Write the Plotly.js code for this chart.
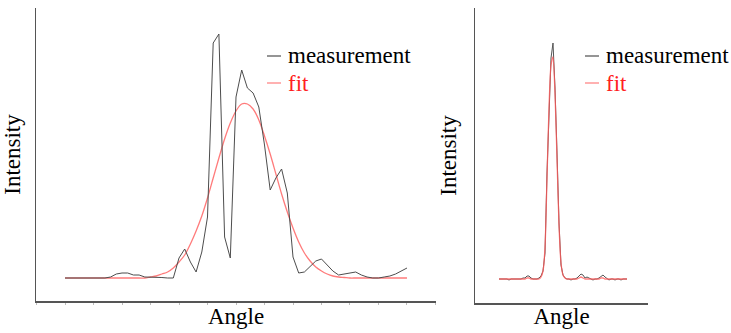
<!DOCTYPE html>
<html>
<head>
<meta charset="utf-8">
<script src="https://cdn.plot.ly/plotly-3.0.1.min.js"></script>
<style>html,body{margin:0;padding:0;background:#fff;}#chart{width:731px;height:333px;}</style>
</head>
<body>
<div id="chart"></div>
<script>
// ---- Left panel data (angle index, intensity in arbitrary units) ----
var leftAngle = [];
for (var i = 0; i <= 60; i++) leftAngle.push(i);
var leftMeasurement = [22,22,22,22,22,22,22,22,23,26,27,27,25,25,23,23,23,22.5,22,22,
  42,51,38,28,48,83,257,266,63,42,203,230,212,207,193,155,110,122,131,107,
  43,27,28,34,39,41,35,29,25,26,27,28,25,23,22,22,23,24,26,29,32];
var leftFit = [22,22,22,22,22,22,22,22,22,22,22,22,22,22,22,23,24,26,28,32,
  38,45,56,69,84,102,122,142,161,177,189,196,196,191,180,164,146,126,106,88,
  72,58,47,39,33,29,26,24,23,22.5,22,22,22,22,22,22,22,22,22,22,22];

// ---- Right panel data ----
var rightAngle = [];
for (var j = 0; j <= 64; j++) rightAngle.push(j);
var rightMeasurement = [24,24,24,24,24,23,24,24,24,24,24,24,25,25,27,27,25,24,24,24,
  25,27,32,50,130,200,245,260,215,150,80,38,28,25,24,24,23,24,24,25,
  27,29,28,25,26,25,24,23,24,24,25,27,28,26,24,23,24,24,23,24,24,23,24,24,24];
var rightFit = [24,24,24,24,24,24,24,24,24,24,24,24,24,24,25,25,24,24,24,24,
  24,26,32,55,125,195,238,246,210,145,78,40,28,25,24,24,24,24,24,24,
  25,26,25,24,24,24,24,24,24,24,24,25,25,24,24,24,24,24,24,24,24,24,24,24,24];

var legendLabels = ["measurement", "fit"];
var axisTitleX = "Angle";
var axisTitleY = "Intensity";

var W = 731, H = 333;
function px(x){ return x / W; }
function py(y){ return 1 - y / H; }

var measColor = "#4d4d4d";
var fitColor = "rgba(255,90,90,0.8)";
var fitTextColor = "#ff2020";
var font = "'Liberation Serif', 'Times New Roman', 'DejaVu Serif', Times, serif";

var traces = [
  {x: leftAngle, y: leftFit, type: "scatter", mode: "lines", xaxis: "x", yaxis: "y",
   line: {color: fitColor, width: 1.3, shape: "spline", smoothing: 1}, name: legendLabels[1], showlegend: false},
  {x: leftAngle, y: leftMeasurement, type: "scatter", mode: "lines", xaxis: "x", yaxis: "y",
   line: {color: measColor, width: 1}, name: legendLabels[0], showlegend: false},
  {x: rightAngle, y: rightMeasurement, type: "scatter", mode: "lines", xaxis: "x2", yaxis: "y2",
   line: {color: "#555555", width: 1}, name: legendLabels[0], showlegend: false},
  {x: rightAngle, y: rightFit, type: "scatter", mode: "lines", xaxis: "x2", yaxis: "y2",
   line: {color: fitColor, width: 1.3, shape: "spline", smoothing: 0.6}, name: legendLabels[1], showlegend: false}
];

var axCommon = {showgrid: false, zeroline: false, showline: true, linecolor: "#555", linewidth: 1.5,
  showticklabels: false, automargin: false, fixedrange: true};

var layout = {
  width: W, height: H,
  margin: {l: 0, r: 0, t: 0, b: 0},
  paper_bgcolor: "#fff", plot_bgcolor: "#fff",
  showlegend: false,
  font: {family: font, color: "#000"},
  xaxis: Object.assign({}, axCommon, {domain: [px(36), px(436)], range: [-5.09, 65.09], anchor: "y",
    ticks: "outside", ticklen: 2, tickcolor: "#bbb", tickwidth: 1, dtick: 5, tick0: 0,
    title: {text: axisTitleX, font: {family: font, size: 23, color: "#000"}, standoff: 4}}),
  yaxis: Object.assign({}, axCommon, {domain: [py(301), py(8)], range: [-1, 292], anchor: "x", ticks: "",
    title: {text: axisTitleY, font: {family: font, size: 23, color: "#000"}, standoff: 8}}),
  xaxis2: Object.assign({}, axCommon, {domain: [px(475), px(648)], range: [-12, 74.5], anchor: "y2", ticks: "",
    title: {text: axisTitleX, font: {family: font, size: 23, color: "#000"}, standoff: 4}}),
  yaxis2: Object.assign({}, axCommon, {domain: [py(303), py(8)], range: [0, 295], anchor: "x2", ticks: "",
    title: {text: axisTitleY, font: {family: font, size: 23, color: "#000"}, standoff: 10}}),
  shapes: [
    {type: "line", xref: "paper", yref: "paper", x0: px(267), x1: px(281), y0: py(56), y1: py(56), line: {color: measColor, width: 1.2}},
    {type: "line", xref: "paper", yref: "paper", x0: px(267), x1: px(281), y0: py(83), y1: py(83), line: {color: fitColor, width: 1.2}},
    {type: "line", xref: "paper", yref: "paper", x0: px(585), x1: px(599), y0: py(56), y1: py(56), line: {color: measColor, width: 1.2}},
    {type: "line", xref: "paper", yref: "paper", x0: px(585), x1: px(599), y0: py(83), y1: py(83), line: {color: fitColor, width: 1.2}}
  ],
  annotations: [
    {xref: "paper", yref: "paper", x: px(286), y: py(56), xanchor: "left", yanchor: "middle", showarrow: false,
     text: legendLabels[0], font: {family: font, size: 23, color: "#000"}},
    {xref: "paper", yref: "paper", x: px(286), y: py(83), xanchor: "left", yanchor: "middle", showarrow: false,
     text: legendLabels[1], font: {family: font, size: 23, color: fitTextColor}},
    {xref: "paper", yref: "paper", x: px(604), y: py(56), xanchor: "left", yanchor: "middle", showarrow: false,
     text: legendLabels[0], font: {family: font, size: 23, color: "#000"}},
    {xref: "paper", yref: "paper", x: px(604), y: py(83), xanchor: "left", yanchor: "middle", showarrow: false,
     text: legendLabels[1], font: {family: font, size: 23, color: fitTextColor}}
  ]
};

Plotly.newPlot("chart", traces, layout, {displayModeBar: false, staticPlot: true});
</script>
</body>
</html>
